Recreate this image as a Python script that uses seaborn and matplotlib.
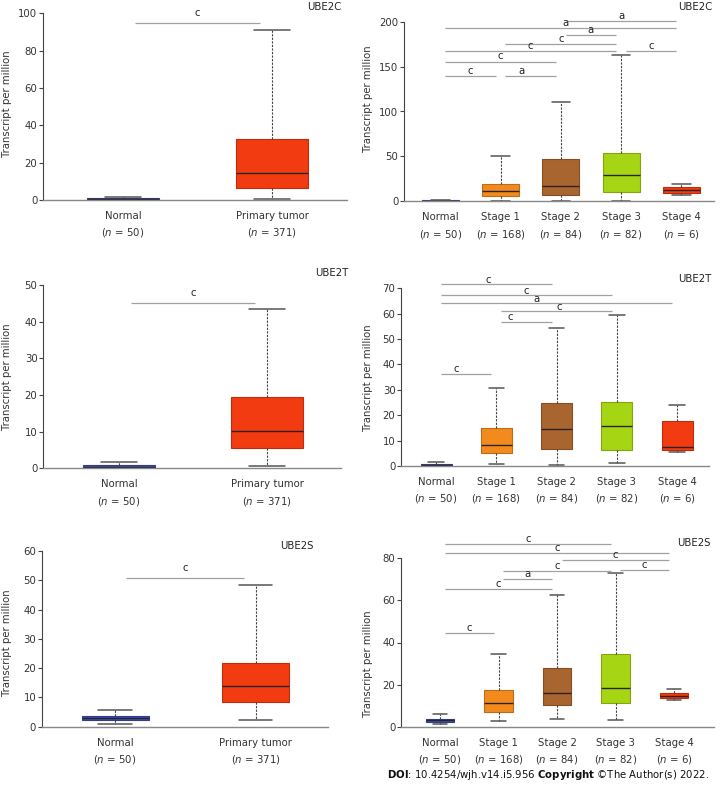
import matplotlib.pyplot as plt
import matplotlib.colors as mcolors
import numpy as np
import pandas as pd
import seaborn as sns

# ── Data ──────────────────────────────────────────────────────────────────────
# five-number summaries per group: [min, q1, median, q3, max], TPM
GROUPS_TUMOR = ["Normal", "Primary tumor"]
N_TUMOR = [50, 371]
GROUPS_STAGE = ["Normal", "Stage 1", "Stage 2", "Stage 3", "Stage 4"]
N_STAGE = [50, 168, 84, 82, 6]

ube2c_tumor = {
    "Normal": [0.0, 0.3, 0.6, 1.1, 1.8],
    "Primary tumor": [0.4, 6.6, 14.6, 32.5, 90.9],
}
ube2c_stage = {
    "Normal": [0.0, 0.3, 0.7, 1.1, 1.9],
    "Stage 1": [0.4, 5.6, 11.9, 19.3, 50.8],
    "Stage 2": [0.7, 7.4, 16.7, 46.8, 110.2],
    "Stage 3": [0.7, 10.0, 28.9, 54.2, 162.5],
    "Stage 4": [6.7, 9.3, 12.2, 15.6, 18.9],
}
ube2t_tumor = {
    "Normal": [0.0, 0.2, 0.45, 0.9, 1.8],
    "Primary tumor": [0.6, 5.6, 10.2, 19.5, 43.5],
}
ube2t_stage = {
    "Normal": [0.0, 0.26, 0.5, 0.9, 1.7],
    "Stage 1": [0.66, 5.0, 8.3, 15.1, 30.9],
    "Stage 2": [0.5, 6.8, 14.4, 24.7, 54.5],
    "Stage 3": [1.3, 6.4, 15.6, 25.2, 59.4],
    "Stage 4": [5.6, 6.2, 7.5, 17.7, 24.0],
}
ube2s_tumor = {
    "Normal": [1.0, 2.2, 3.0, 3.6, 5.8],
    "Primary tumor": [2.3, 8.5, 13.9, 21.6, 48.4],
}
ube2s_stage = {
    "Normal": [1.1, 2.2, 3.0, 3.6, 5.9],
    "Stage 1": [2.5, 7.1, 11.4, 17.3, 34.4],
    "Stage 2": [3.8, 10.1, 15.8, 27.9, 62.6],
    "Stage 3": [3.0, 11.4, 18.2, 34.7, 72.9],
    "Stage 4": [12.7, 13.5, 14.6, 16.0, 17.9],
}

# significance brackets: (group i, group j, height, letter, letter x or None)
sig_ube2c_tumor = [(0, 1, 94.6, "c", None)]
sig_ube2c_stage = [
    (2, 4, 200.7, "a", None), (0, 4, 192.6, "a", 2.08), (2, 3, 184.8, "a", None),
    (1, 3, 175.1, "c", None), (0, 3, 167.0, "c", None), (3, 4, 167.0, "c", None),
    (0, 2, 155.1, "c", None), (0, 1, 139.1, "c", None), (1, 2, 139.1, "a", 1.34),
]
sig_ube2t_tumor = [(0, 1, 45.0, "c", None)]
sig_ube2t_stage = [
    (0, 2, 71.6, "c", 0.86), (0, 3, 67.2, "c", 1.50), (0, 4, 64.1, "a", 1.67),
    (1, 3, 60.9, "c", 2.04), (1, 2, 56.9, "c", 1.24), (0, 1, 36.4, "c", 0.33),
]
sig_ube2s_tumor = [(0, 1, 50.7, "c", None)]
sig_ube2s_stage = [
    (0, 3, 86.6, "c", None), (0, 4, 82.5, "c", None), (2, 4, 79.2, "c", None),
    (1, 3, 74.0, "c", None), (3, 4, 74.3, "c", None), (1, 2, 70.0, "a", None),
    (0, 2, 65.3, "c", None), (0, 1, 44.4, "c", None),
]

COLORS_TUMOR = {"Normal": "#3d4fb6", "Primary tumor": "#f23b10"}
COLORS_STAGE = {"Normal": "#3d4fb6", "Stage 1": "#f28a1e", "Stage 2": "#a9652f",
                "Stage 3": "#a6d514", "Stage 4": "#f23b10"}

# ── Layout (pixels) ───────────────────────────────────────────────────────────
W, H = 722, 788
FS = 7.3

sns.set_theme(style="ticks", context="paper")
plt.rcParams["font.family"] = ["DejaVu Sans"]
plt.rcParams["mathtext.fontset"] = "dejavusans"

fig = plt.figure(figsize=(W / 100, H / 100), dpi=100)


def darken(c, f=0.78):
    r, g, b = mcolors.to_rgb(c)
    return (r * f, g * f, b * f)


def draw_panel(box, p0, step, box_px, summary, groups, counts, palette,
               ymax, ystep, sigs, gap, ylabel_xy, gene, gene_xy):
    L, T, R, B = box
    ax = fig.add_axes([L / W, 1 - B / H, (R - L) / W, (B - T) / H])
    df = pd.DataFrame([(g, v) for g in groups for v in summary[g]],
                      columns=["group", "tpm"])
    sns.boxplot(data=df, x="group", y="tpm", hue="group", order=groups,
                hue_order=groups, palette=palette, legend=False, saturation=1,
                width=box_px / step, whis=(0, 100), linewidth=0.8, ax=ax,
                whiskerprops={"color": "#444444", "linestyle": (0, (2, 1.2)),
                              "linewidth": 0.8},
                capprops={"color": "#555555", "linewidth": 1.1},
                medianprops={"color": "#2b2323", "linewidth": 1.0})
    for p in ax.patches:
        p.set_edgecolor(darken(p.get_facecolor()))

    ax.set_xlim((L - p0) / step, (R - p0) / step)
    ax.set_ylim(0, ymax)
    ax.set_yticks(np.arange(0, ymax + 1, ystep))
    ax.set_xticks(range(len(groups)))
    ax.set_xticklabels([f"{g}\n($n$ = {n})" for g, n in zip(groups, counts)])
    for lbl in ax.get_xticklabels():
        lbl.set_linespacing(1.55)
    ax.tick_params(axis="x", length=0, pad=8, labelsize=FS, labelcolor="#333333")
    ax.tick_params(axis="y", length=3, width=0.8, pad=1, labelsize=FS,
                   color="#444444", labelcolor="#333333")
    ax.set_xlabel("")
    ax.set_ylabel("Transcript per million", fontsize=FS, color="#333333")
    ax.yaxis.label.set_va("center")
    ax.yaxis.set_label_coords((ylabel_xy[0] - L) / (R - L),
                              (B - ylabel_xy[1]) / (B - T))
    sns.despine(ax=ax)
    ax.spines["left"].set_color("#444444")
    ax.spines["left"].set_linewidth(0.8)
    ax.spines["bottom"].set_color("#888888")
    ax.spines["bottom"].set_linewidth(1.0)

    for i, j, y, letter, lx in sigs:
        ax.plot([i + 0.08, j - 0.08], [y, y], color="#a0a0a0", lw=0.9,
                clip_on=False, solid_capstyle="butt")
        ax.annotate(letter, xy=((i + j) / 2 if lx is None else lx, y),
                    xytext=(0, gap), textcoords="offset points", ha="center",
                    va="center", fontsize=FS, color="#222222",
                    annotation_clip=False)

    fig.text(gene_xy[0] / W, 1 - gene_xy[1] / H, gene, fontsize=FS,
             color="#222222", ha="center", va="center")
    return ax


# left column: normal vs primary tumor; right column: by stage
draw_panel((43, 13.3, 347, 200), 123, 149, 72, ube2c_tumor, GROUPS_TUMOR, N_TUMOR,
           COLORS_TUMOR, 100, 20, sig_ube2c_tumor, 7.2, (7, 104), "UBE2C", (324.5, 7.3))
draw_panel((404, 21.7, 714, 201.3), 440.3, 60.25, 37, ube2c_stage, GROUPS_STAGE, N_STAGE,
           COLORS_STAGE, 200, 50, sig_ube2c_stage, 4.0, (368, 99), "UBE2C", (695, 7.3))
draw_panel((43, 285, 341, 468.3), 119, 148, 72, ube2t_tumor, GROUPS_TUMOR, N_TUMOR,
           COLORS_TUMOR, 50, 10, sig_ube2t_tumor, 7.2, (7, 376.7), "UBE2T", (332, 273.3))
draw_panel((401, 288.3, 709, 466), 436, 60.25, 31, ube2t_stage, GROUPS_STAGE, N_STAGE,
           COLORS_STAGE, 70, 10, sig_ube2t_stage, 3.3, (368, 377.5), "UBE2T", (694.5, 279.3))
draw_panel((41.7, 551, 328, 726.7), 115, 140.5, 67, ube2s_tumor, GROUPS_TUMOR, N_TUMOR,
           COLORS_TUMOR, 60, 10, sig_ube2s_tumor, 7.2, (7, 642.5), "UBE2S", (297, 546))
draw_panel((401, 558.3, 714, 726.7), 440, 58.5, 28.5, ube2s_stage, GROUPS_STAGE, N_STAGE,
           COLORS_STAGE, 80, 20, sig_ube2s_stage, 3.8, (368, 664), "UBE2S", (693.5, 543.3))

fig.text(709 / W, 1 - 775 / H,
         r"$\mathbf{DOI}$: 10.4254/wjh.v14.i5.956 $\mathbf{Copyright}$ ©The Author(s) 2022.",
         fontsize=FS, color="#111111", ha="right", va="center")

fig.savefig("out.png", dpi=100, facecolor="white")
